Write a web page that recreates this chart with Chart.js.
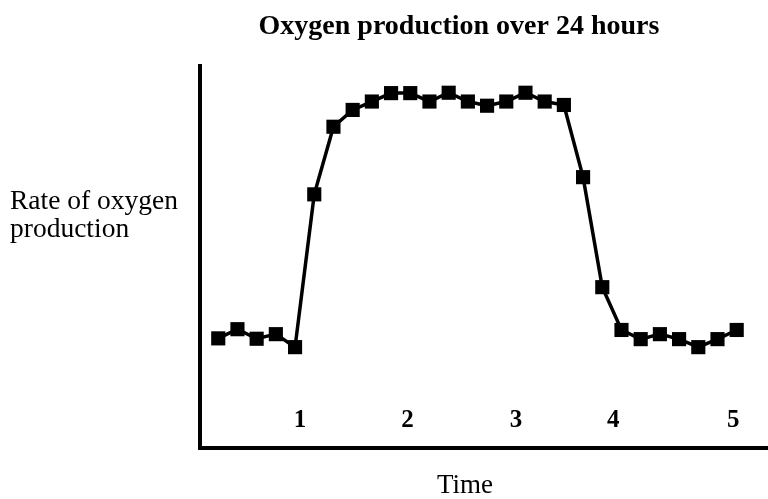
<!DOCTYPE html>
<html>
<head>
<meta charset="utf-8">
<script src="https://cdn.jsdelivr.net/npm/chart.js@4/dist/chart.umd.min.js"></script>
<style>
  html, body { margin: 0; padding: 0; background: #fff; }
  #wrap { width: 768px; height: 499px; position: relative; }
</style>
</head>
<body>
<div id="wrap"><canvas id="c" width="768" height="499"></canvas></div>
<script>
// ---- data ----
const hours = [1,2,3,4,5,6,7,8,9,10,11,12,13,14,15,16,17,18,19,20,21,22,23,24,25,26,27,28];
const oxygenRate = [28.7,31.1,28.6,29.8,26.4,66.4,84.1,88.5,90.7,92.9,92.9,90.7,93.0,90.7,89.6,90.7,93.0,90.7,89.8,70.9,42.1,30.9,28.5,29.8,28.5,26.4,28.5,30.9];
const tickValues = [5.26, 10.85, 16.5, 21.57, 27.82];
const tickLabels = ['1', '2', '3', '4', '5'];
const chartTitle = 'Oxygen production over 24 hours';
const yLabelLines = ['Rate of oxygen', 'production'];
const xLabel = 'Time';

const SERIF = "'Liberation Serif', 'Times New Roman', serif";

const textPlugin = {
  id: 'texts',
  afterDraw(chart) {
    const ctx = chart.ctx;
    ctx.save();
    ctx.fillStyle = '#000';
    ctx.textBaseline = 'middle';
    ctx.textAlign = 'center';
    ctx.font = 'bold 28px ' + SERIF;
    ctx.fillText(chartTitle, 459, 27);
    ctx.font = '27px ' + SERIF;
    ctx.fillText(xLabel, 465, 486);
    ctx.font = '27.5px ' + SERIF;
    ctx.textAlign = 'left';
    ctx.fillText(yLabelLines[0], 10, 202);
    ctx.fillText(yLabelLines[1], 10, 230);
    ctx.restore();
  }
};

new Chart(document.getElementById('c'), {
  type: 'line',
  data: {
    datasets: [{
      data: hours.map((h, i) => ({ x: h, y: oxygenRate[i] })),
      borderColor: '#000',
      backgroundColor: '#000',
      borderWidth: 3.5,
      tension: 0,
      pointStyle: 'rect',
      pointRadius: 10,
      pointHoverRadius: 10,
      pointBorderWidth: 0,
      clip: false
    }]
  },
  options: {
    responsive: false,
    animation: false,
    events: [],
    layout: { autoPadding: false, padding: { top: 66, left: 0, right: 0, bottom: 0 } },
    plugins: { legend: { display: false }, title: { display: false }, tooltip: { enabled: false } },
    scales: {
      x: {
        type: 'linear',
        position: 'bottom',
        min: 0.05,
        max: 29.63,
        grid: { display: false, drawTicks: false },
        border: { display: true, color: '#000', width: 4 },
        afterBuildTicks: s => { s.ticks = tickValues.map(v => ({ value: v })); },
        afterFit: s => { s.height = 51; s.paddingLeft = 0; s.paddingRight = 0; },
        ticks: {
          autoSkip: false,
          maxRotation: 0,
          mirror: true,
          padding: 15,
          color: '#000',
          font: { family: SERIF, size: 25, weight: 'bold', lineHeight: 1 },
          callback: (v, i) => tickLabels[i]
        }
      },
      y: {
        min: 0,
        max: 100,
        grid: { display: false, drawTicks: false },
        border: { display: true, color: '#000', width: 4 },
        ticks: { display: false },
        afterFit: s => { s.width = 200; }
      }
    }
  },
  plugins: [textPlugin]
});
</script>
</body>
</html>
